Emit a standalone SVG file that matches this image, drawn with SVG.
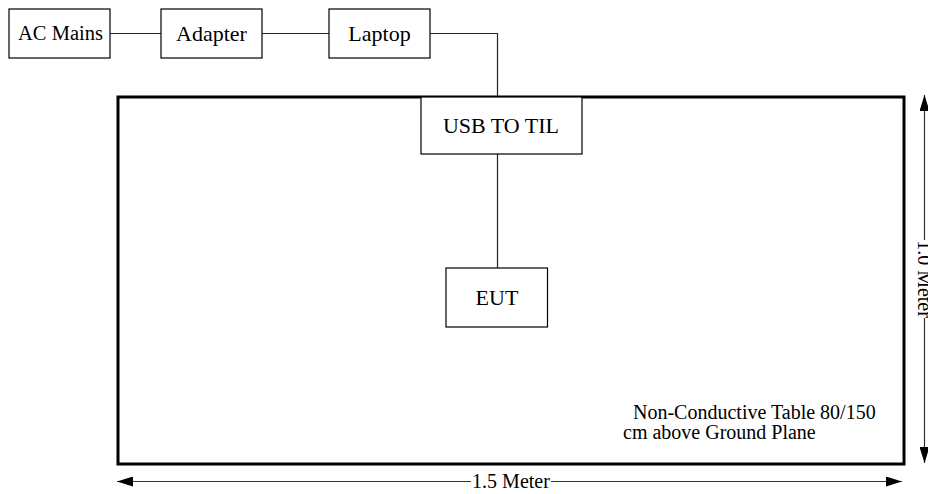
<svg xmlns="http://www.w3.org/2000/svg" width="928" height="494" viewBox="0 0 928 494" font-family="'Liberation Serif', 'Times New Roman', serif">
<defs>
<style>
.box{fill:#fff;stroke:#000;stroke-width:1.2}
.lbl{font-family:'Liberation Serif','Times New Roman',serif;font-size:22px;fill:#000;text-anchor:middle}
.sm{font-family:'Liberation Serif','Times New Roman',serif;font-size:20px;fill:#000}
.wire{fill:none;stroke:#222;stroke-width:1.2}
.dim{fill:none;stroke:#333;stroke-width:1.2}
.table{fill:#fff;stroke:#000;stroke-width:3}
</style>
<marker id="arr" viewBox="0 0 16 10" refX="16" refY="5" markerWidth="16" markerHeight="10" markerUnits="userSpaceOnUse" orient="auto-start-reverse">
<path d="M0,0 L16,5 L0,10 Z" fill="#000"/>
</marker>
</defs>
<rect width="928" height="494" fill="#fff"/>
<g id="table">
<rect class="table" x="118" y="97" width="786" height="367"/>
<text class="sm" x="633" y="419">Non-Conductive Table 80/150</text>
<text class="sm" x="623" y="439">cm above Ground Plane</text>
</g>
<g id="connectors">
<line class="wire" x1="110" y1="33.5" x2="161" y2="33.5"/>
<line class="wire" x1="262" y1="33.5" x2="329" y2="33.5"/>
<polyline class="wire" points="430,33.5 497.5,33.5 497.5,97"/>
<line class="wire" x1="497.5" y1="154" x2="497.5" y2="268"/>
</g>
<g id="ac-mains">
<rect class="box" x="9" y="9" width="101" height="49"/>
<text class="lbl" x="60.5" y="40" style="font-size:20.5px">AC Mains</text>
</g>
<g id="adapter">
<rect class="box" x="161" y="9" width="101" height="49"/>
<text class="lbl" x="211.5" y="40.5">Adapter</text>
</g>
<g id="laptop">
<rect class="box" x="329" y="9" width="101" height="49"/>
<text class="lbl" x="379.5" y="40.5">Laptop</text>
</g>
<g id="usb-to-til">
<rect class="box" x="421" y="97" width="161" height="57"/>
<text class="lbl" x="501" y="133">USB TO TIL</text>
</g>
<g id="eut">
<rect class="box" x="446" y="268" width="101.5" height="59"/>
<text class="lbl" x="497" y="305">EUT</text>
</g>
<g id="dimensions">
<line class="dim" x1="117" y1="481.5" x2="471" y2="481.5" marker-start="url(#arr)"/>
<line class="dim" x1="551" y1="481.5" x2="902" y2="481.5" marker-end="url(#arr)"/>
<text class="sm" x="511" y="488" text-anchor="middle">1.5 Meter</text>
<line class="dim" x1="924.5" y1="95" x2="924.5" y2="240" marker-start="url(#arr)"/>
<line class="dim" x1="924.5" y1="318" x2="924.5" y2="463" marker-end="url(#arr)"/>
<text class="sm" x="0" y="0" text-anchor="middle" transform="translate(917.5,279) rotate(90)">1.0 Meter</text>
</g>
</svg>
